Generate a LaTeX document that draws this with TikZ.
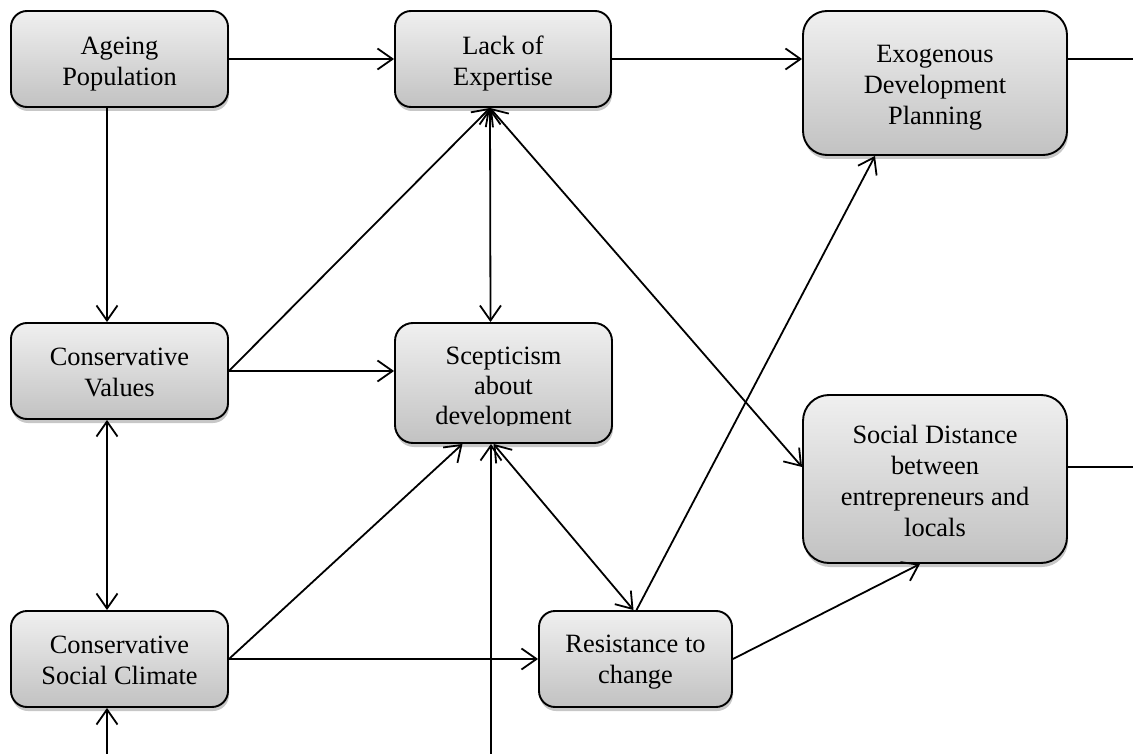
\documentclass[tikz,border=0pt]{standalone}
\usepackage{fontspec}
\setmainfont{Liberation Serif}
\usetikzlibrary{arrows.meta,shadows}

\tikzset{
  box/.style={draw=black, line width=1.9pt, top color=gray!12, bottom color=gray!48,
    inner sep=0pt,
    drop shadow={shadow xshift=1pt, shadow yshift=-4pt, fill=black, opacity=0.22}},
  boxtext/.style={align=center, inner sep=0pt, font=\fontsize{26.4}{31}\selectfont},
  link/.style={line width=1.8pt, draw=black},
  >={Straight Barb[length=15pt,width=21pt,line width=1.8pt]},
}

\begin{document}
\begin{tikzpicture}[x=1pt, y=-1pt]
\useasboundingbox (0,0) rectangle (1133,754);

% boxes, each with its caption set as a centred label
\node[box, minimum width=217pt, minimum height=96pt, rounded corners=16pt,
      label={[boxtext, yshift=-5pt]center:{Ageing\\Population}}]
  (age) at (119.5,59) {};
\node[box, minimum width=216pt, minimum height=96pt, rounded corners=16pt,
      label={[boxtext, yshift=-5pt]center:{Lack of\\Expertise}}]
  (lack) at (503,59) {};
\node[box, minimum width=264pt, minimum height=144pt, rounded corners=24pt,
      label={[boxtext, yshift=-4.5pt]center:{Exogenous\\Development\\Planning}}]
  (exo) at (935,83) {};
\node[box, minimum width=217pt, minimum height=96pt, rounded corners=16pt,
      label={[boxtext, yshift=-1.5pt]center:{Conservative\\Values}}]
  (cv) at (119.5,371) {};
\node[box, minimum width=217pt, minimum height=120pt, rounded corners=18pt]
  (scep) at (503.5,383) {};
\begin{scope}
  \clip (scep.north west) rectangle (612,425);
  \node[boxtext, font=\fontsize{26.4}{30}\selectfont] (scepT) at (503.5,388.5)
    {Scepticism\\about\\development};
\end{scope}
\node[box, minimum width=264pt, minimum height=168pt, rounded corners=26pt,
      label={[boxtext, yshift=-2pt]center:{Social Distance\\between\\entrepreneurs and\\locals}}]
  (sd) at (935,479) {};
\node[box, minimum width=217pt, minimum height=96pt, rounded corners=16pt,
      label={[boxtext, yshift=-1.5pt]center:{Conservative\\Social Climate}}]
  (csc) at (119.5,659) {};
\node[box, minimum width=193pt, minimum height=96pt, rounded corners=16pt,
      label={[boxtext, yshift=-3.5pt]center:{Resistance to\\change}}]
  (res) at (635.5,659) {};

% free line ends at the page border
\coordinate (exoOut) at (1133,59);
\coordinate (sdOut) at (1133,467);
\coordinate (botC) at (107,754);
\coordinate (botS) at (491,754);

% connectors
\draw[link,->] (age.east) -- (lack.west);
\draw[link,->] (lack.east) -- (lack.east -| exo.west);
\draw[link] (exoOut -| exo.east) -- (exoOut);
\draw[link] (sdOut -| sd.east) -- (sdOut);

\draw[link,->] ([xshift=-12.5pt]age.south) -- ([xshift=-12.5pt]cv.north);
\draw[link,<->] ([xshift=-12.5pt]cv.south) -- ([xshift=-12.5pt]csc.north);
\draw[link,->] (botC) -- (botC |- csc.south);

\draw[link,->] (cv.east) -- ([xshift=-13pt]lack.south);
\draw[link,->] (cv.east) -- (cv.east -| scep.west);
\draw[link,<->] ([xshift=-13pt]lack.south) -- ([xshift=-13pt]scep.north);
\draw[link,<->] ([xshift=-13pt]lack.south) -- ([yshift=12pt]sd.west);

\draw[link,->] (csc.east) -- ([xshift=-41pt]scep.south);
\draw[link,->] (csc.east) -- (res.west);
\draw[link,->] (botS) -- (botS |- scep.south);
\draw[link,<->] ([xshift=-10pt]scep.south) -- ([xshift=-2pt]res.north);

\draw[link,->] ([xshift=1pt]res.north) -- ([xshift=-60pt]exo.south);
\draw[link,->] (res.east) -- ([xshift=-15pt]sd.south);
\end{tikzpicture}
\end{document}
